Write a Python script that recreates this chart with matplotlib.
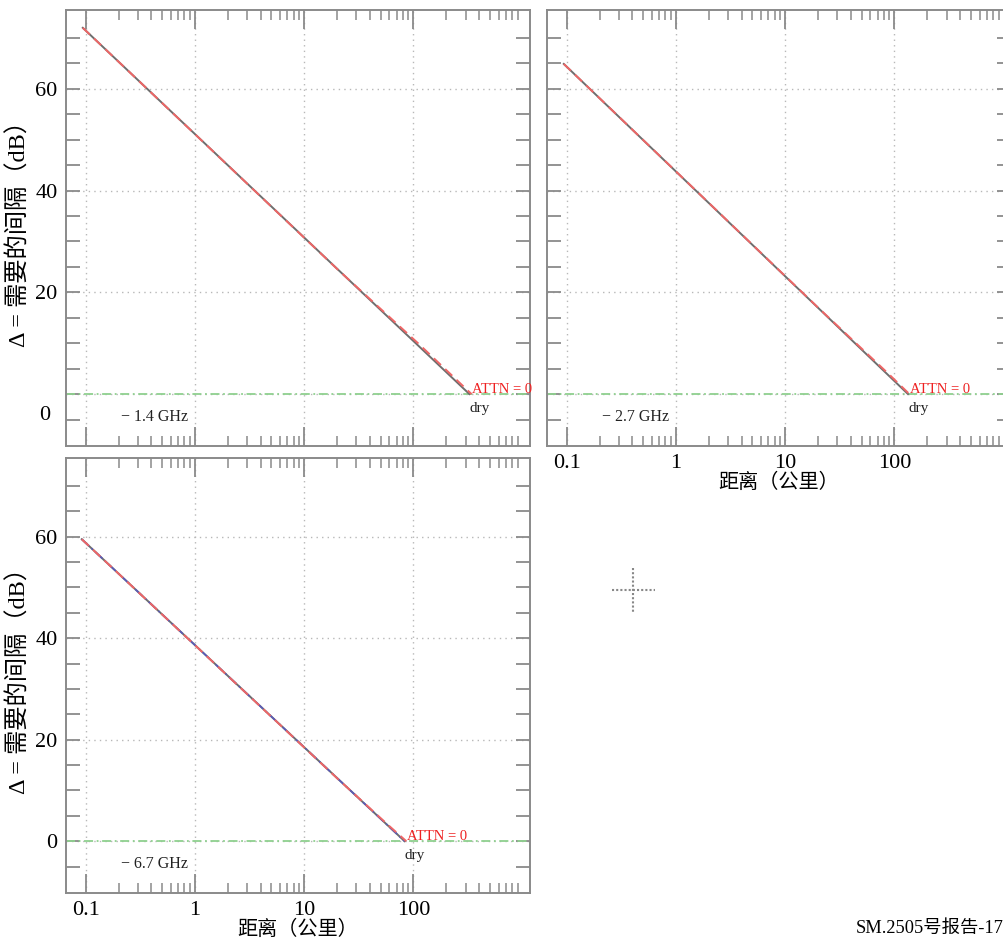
import numpy as np
import matplotlib
matplotlib.use('Agg')
import matplotlib.pyplot as plt
from matplotlib.ticker import FixedLocator, NullFormatter
from matplotlib.lines import Line2D

plt.rcParams['font.family'] = ['Liberation Serif', 'Noto Sans CJK SC']

# Values (distance in km, separation in dB)
freqs = ['− 1.4 GHz', '− 2.7 GHz', '− 6.7 GHz']

dry_d_14 = [0.094, 325]
dry_v_14 = [72.0, 0.0]
attn_d_14 = [0.094, 20, 110, 340]
attn_v_14 = [72.0, 24.6, 10.0, 0.0]

dry_d_27 = [0.094, 133]
dry_v_27 = [64.9, 0.0]
attn_d_27 = [0.094, 20, 90, 137]
attn_v_27 = [64.9, 17.0, 3.8, 0.0]

dry_d_67 = [0.092, 83]
dry_v_67 = [59.5, 0.0]
wet_d_67 = [0.092, 83]
wet_v_67 = [59.5, 0.0]
attn_d_67 = [0.092, 20, 60, 86]
attn_v_67 = [59.5, 12.4, 3.0, 0.0]

x_major = [0.1, 1, 10, 100]
x_labels = ['0.1', '1', '10', '100']
x_minor = [m * d for d in (0.1, 1, 10, 100) for m in range(2, 10)]
y_major = [0, 20, 40, 60]
y_minor = list(range(-5, 75, 5))

xmin, xmax = 0.066, 1165
ymin, ymax = -10.2, 75.5

fig = plt.figure(figsize=(10.04, 9.39), dpi=100)
W, H = 1004, 939


def make_axes(left, top, right, bottom):
    return fig.add_axes([left / W, (H - bottom) / H, (right - left) / W, (bottom - top) / H])


ax1 = make_axes(66, 10, 530, 446)
ax2 = make_axes(547, 10, 1011, 446)
ax3 = make_axes(66, 458, 530, 893)

spine_col = '#8a8a8a'
panels = [
    (ax1, dry_d_14, dry_v_14, attn_d_14, attn_v_14, None, None, freqs[0]),
    (ax2, dry_d_27, dry_v_27, attn_d_27, attn_v_27, None, None, freqs[1]),
    (ax3, dry_d_67, dry_v_67, attn_d_67, attn_v_67, wet_d_67, wet_v_67, freqs[2]),
]

for ax, dd, dv, ad, av, wd, wv, ftxt in panels:
    ax.set_xscale('log')
    ax.set_xlim(xmin, xmax)
    ax.set_ylim(ymin, ymax)
    # grid
    ax.grid(True, which='major', color='#b8b8b8', linestyle=(0, (1, 3)), linewidth=1.0)
    # zero line
    ax.plot([xmin, xmax], [0, 0], color='#8fd08f', linestyle=(0, (5, 2, 1, 2)), linewidth=1.3)
    # curves
    ax.plot(dd, dv, color='#6e6e6e', linewidth=1.4)
    if wd is not None:
        ax.plot(wd, wv, color='#5a5ab8', linewidth=1.2, linestyle=(0, (6, 2, 1, 2)))
    ax.plot(ad, av, color='#ee6666', linewidth=1.4, linestyle=(0, (5, 3)))
    # labels
    ax.text(ad[-1] * 1.01, 0.9, 'ATTN = 0', color='#ee2222', fontsize=10.5, ha='left', va='center')
    ax.text(dd[-1], -1.6, 'dry', color='#222222', fontsize=11, ha='left', va='top')
    ax.text(0.21, -4.5, ftxt, color='#222222', fontsize=11.5, ha='left', va='center')

    ax.xaxis.set_major_locator(FixedLocator(x_major))
    ax.xaxis.set_minor_locator(FixedLocator(x_minor))
    ax.xaxis.set_minor_formatter(NullFormatter())
    ax.set_xticklabels(x_labels)
    ax.yaxis.set_major_locator(FixedLocator(y_major))
    ax.yaxis.set_minor_locator(FixedLocator(y_minor))
    ax.tick_params(axis='x', which='major', direction='in', length=14, width=1.3,
                   top=True, bottom=True, color=spine_col, labelsize=16, pad=6)
    ax.tick_params(axis='x', which='minor', direction='in', length=7, width=1.1,
                   top=True, bottom=True, color=spine_col)
    ax.tick_params(axis='y', which='both', direction='in', length=10, width=1.3,
                   left=True, right=True, color=spine_col, labelsize=16, pad=6)
    for s in ax.spines.values():
        s.set_color(spine_col)
        s.set_linewidth(1.4)

# tick label visibility
ax1.set_xticklabels([])
ax2.set_yticklabels([])
ax1.set_yticklabels(['', '20', '40', '60'])
ax1.text(-0.035, -4.3, '0', transform=ax1.get_yaxis_transform(), ha='right', va='center', fontsize=16)

ylab = 'Δ = 需要的间隔（dB）'
for ax in (ax1, ax3):
    ax.set_ylabel(ylab, fontsize=17.5)
    ax.yaxis.set_label_coords(-0.076, 0.5)
for ax in (ax2, ax3):
    ax.set_xlabel('距离（公里）', fontsize=14.5, labelpad=0)

# crosshair marker
fig.add_artist(Line2D([612 / W, 655 / W], [(H - 590) / H] * 2, color='#888888',
                      linestyle=(0, (1, 1)), linewidth=1.5))
fig.add_artist(Line2D([633 / W] * 2, [(H - 568) / H, (H - 612) / H], color='#888888',
                      linestyle=(0, (1, 1)), linewidth=1.5))

fig.text(856 / W, (H - 928) / H, 'SM.2505号报告-17', fontsize=13.2, ha='left', va='center')

fig.savefig('out.png', dpi=100)
